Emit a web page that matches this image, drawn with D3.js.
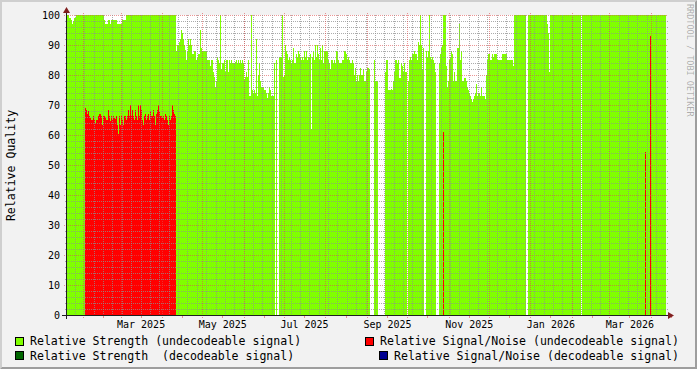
<!DOCTYPE html>
<html><head><meta charset="utf-8">
<script src="https://cdn.jsdelivr.net/npm/d3@7"></script>
<style>html,body{margin:0;padding:0;background:#F2F2F2;} svg{display:block;}</style>
</head><body>
<svg id="c" width="697" height="369"></svg>
<script>
// ---------------- data ----------------
const rangeStart = "2025-01-18T22:20:00Z";   // graph spans 64 weeks
const rangeDays = 448;
const sampleCount = 600;                      // one consolidated sample per column
const yTickValues = [0,10,20,30,40,50,60,70,80,90,100];
const xTickLabels = ["Mar 2025","May 2025","Jul 2025","Sep 2025","Nov 2025","Jan 2026","Mar 2026"];
const yTitle = "Relative Quality";
const seriesNames = ["Relative Strength (undecodeable signal)","Relative Signal/Noise (undecodeable signal)","Relative Strength  (decodeable signal)","Relative Signal/Noise (decodeable signal)"];
const seriesColors = ["#80FF00","#FF0000","#006600","#000090"];

// Relative Strength (undecodeable) – one value per sample, null = no data
const strengthUndecodeable = [
 100,100,100,99,99,98.5,97,98,99,99,
 100,100,100,100,100,100,100,100,100,100,100,100,100,100,100,100,100,100,100,100,100,100,100,100,100,100,100,100,
 98.5,97,97,97,98.5,98.5,97,98.5,98.5,98.5,98.5,98.5,98.5,97,97,97,97,97,98.5,98.5,98.5,98.5,
 100,100,100,100,100,100,100,100,100,100,100,100,100,100,100,100,100,100,100,100,100,100,100,100,100,
 100,100,100,100,100,100,100,100,100,100,100,100,100,100,100,100,100,100,100,100,100,100,100,100,100,
 // Apr 2025
 88,90,90,91,92,95,94,92,90,88.5,85,88,92,90,92,90,87,87,88,88,85,86,87,87,95,89,88,88,88,88,88,85,85,85,83,85,85,81,79.5,76,
 78,86,85,84,100,82,84,84,85,81,85,85,81,85,84,85,84,84,84,84.5,85,84,85,84,85,84,85,84,78.5,79.5,81,79.5,85,73,73,100,75,74,75,74,
 92,73,80,84,78,76,76,76,75,75,74,72.5,74,76,75,73,73,73,84,null,85,null,null,86,86,86,100,79.5,80,90,88,87,85,86,
 // Jul 2025
 85,84,85,89,84,84,87,86,88,87,86,85,86,85,88,86,88,85,86,86,87,62,86,88,85,90,86,90,87,85,89,85,90,84,88,88,88,88,85,84,
 82,85,85,84,85,84,88,88,85,84,84,84,85,85,88,88,87,85,86,85,84,84,85,84,80,82.5,78,80,78,80,82.5,80,80,82,78,78,81,82.5,82.5,82,
 // Sep 2025
 null,null,null,null,85,78,78,78,null,null,null,null,null,null,null,81,85,85,75,75,75,75.5,75,78,81,85,85,84,85,79,79,84,83,81,84,81,81,null,78,85,
 86,85,87,87,88,87,87,85,91,90,100,90,82,89,null,null,88,86,88,100,86,85,86,85,84,81,null,null,null,84,87,89,90,100,100,100,83,76,78,85,
 86,88,87,78,81,78,78,89,89,97,85,88,78,78,79,79,78,76,75,74,73,72,71,72,73,74,77,73,74,74,73,76,73,73,73,72,80,85,87,87,
 85,85,87,86,87,87,87,85,85,85,
 // Dec 2025
 85,85,87,87,87,87,87,85,85,85,85,85,85,83,100,100,100,100,100,100,100,100,100,100,100,100,null,null,
 100,100,100,100,100,100,100,100,100,100,100,100,100,100,100,100,100,100,100,97,94,81,
 100,100,100,100,100,100,100,100,100,100,100,100,100,100,100,100,100,100,100,100,100,100,100,100,100,100,100,100,100,100,100,null,
 100,100,100,100,100,100,100,100,100,100,100,100,100,100,100,100,100,100,100,100,100,100,100,100,100,100,100,100,100,100,100,100,100,100,100,100,100,100,100,100,100,100,
 100,100,100,100,100,100,100,100,100,100,100,100,100,100,100,100,100,100,100,100,100,100,100,100,100,100,100,100,100,100,100,100,100,100,100,100,100,100,100,100,100,100
];

// Relative Signal/Noise (undecodeable): continuous block starting at sample 19
const snrUndecodeableFirstSample = 19;
const snrUndecodeable = [
 69,68.4,67.1,67.9,66.4,65.7,65.1,65.1,66.2,65.1,64,65.1,65.1,66.4,67.1,67.1,66.2,63.5,66.2,66.2,
 66,65.1,65.1,68.4,66.2,64.6,66.2,65.1,66.2,65.7,65.3,66.2,63.5,60.5,66.2,63.5,66.2,65.1,63.5,66.2,
 66.2,65.1,66.2,68.4,66.2,70.1,66.2,68.4,66.2,65.1,68.4,66.2,65.1,70.1,66.2,70.1,68.4,65.1,63.5,66.2,
 67.1,65.1,66.2,67.1,65.1,67.9,66.2,66.2,68.4,66.2,63.5,67.1,68.4,70.1,67.9,66.2,66.2,65.7,66.2,65.1,
 67.1,66.2,65.1,63.5,66.2,65.1,66.2,70.1,68.4,67.1,66.2
];
// isolated samples [sample, value]
const snrUndecodeableSpikes = [[377,61],[579,54.5],[584,93]];
const strengthDecodeable = [];
const snrDecodeable = [];

// ---------------- drawing ----------------
const W = 697, H = 369;
const svg = d3.select("#c");
const t0 = new Date(rangeStart);
const t1 = new Date(t0.getTime() + rangeDays*864e5);
const x = d3.scaleUtc().domain([t0,t1]).range([66,666]);
const y = d3.scaleLinear().domain([0,100]).range([315,15]);
const stepMs = (t1 - t0)/sampleCount;
const tAt = i => new Date(t0.getTime() + i*stepMs);

// background & shading
svg.append("rect").attr("width",W).attr("height",H).attr("fill","#F2F2F2");
svg.append("path").attr("d",`M0,0H${W}L${W-2},2H2V${H-2}L0,${H}Z`).attr("fill","#CFCFCF");
svg.append("path").attr("d",`M${W},0V${H}H0L2,${H-2}H${W-2}V2Z`).attr("fill","#9E9E9E");
// canvas
svg.append("rect").attr("x",x.range()[0]).attr("y",y(100)).attr("width",x.range()[1]-x.range()[0]).attr("height",y(0)-y(100)).attr("fill","#FFFFFF");

function pts(samples){
  const out=[]; let prev=-2;
  samples.forEach(s=>{
    if(s.i!==prev+1) out.push({t:tAt(s.i),v:null});
    if(s.v==null){ out.push({t:tAt(s.i),v:null}); }
    else { out.push({t:tAt(s.i),v:s.v}); out.push({t:tAt(s.i+1),v:s.v}); }
    prev=s.i;
  });
  return out;
}
const area = d3.area().x(d=>Math.round(x(d.t))).y0(y(0)).y1(d=>y(d.v)).defined(d=>d.v!=null);
function drawSeries(samples,color){
  svg.append("path").attr("d",area(pts(samples))).attr("fill",color).attr("shape-rendering","crispEdges");
}
drawSeries(strengthUndecodeable.map((v,i)=>({i,v})), seriesColors[0]);
const snrSamples = snrUndecodeable.map((v,k)=>({i:snrUndecodeableFirstSample+k,v}))
  .concat(snrUndecodeableSpikes.map(d=>({i:d[0],v:d[1]}))).sort((a,b)=>a.i-b.i);
drawSeries(snrSamples, seriesColors[1]);
drawSeries(strengthDecodeable.map(d=>({i:d[0],v:d[1]})), seriesColors[2]);
drawSeries(snrDecodeable.map(d=>({i:d[0],v:d[1]})), seriesColors[3]);

// grid (1 on / 1 off dotted)
const gGrid = svg.append("g");
const minorCol = "rgba(143,143,143,0.75)", majorCol = "rgba(222,79,79,0.6)";
function hline(yy,xa,xb,col){
  gGrid.append("line").attr("x1",xa).attr("x2",xb).attr("y1",yy).attr("y2",yy)
    .attr("stroke",col).attr("stroke-width",1).attr("stroke-dasharray","1,1");
}
function vline(xx,ya,yb,col){
  gGrid.append("line").attr("x1",xx).attr("x2",xx).attr("y1",ya).attr("y2",yb)
    .attr("stroke",col).attr("stroke-width",1).attr("stroke-dasharray","1,1");
}
d3.range(0,101,2).filter(v=>v%10!==0).forEach(v=>hline(y(v)+0.5,65,668,minorCol));
yTickValues.forEach(v=>hline(y(v)+0.5,64,668,majorCol));
const months = d3.utcMonth.range(t0,t1);
d3.utcSunday.range(t0,t1).forEach(d=>vline(Math.floor(x(d))+0.5,15,316,minorCol));
months.forEach(d=>{
  vline(Math.floor(x(d))+0.5,13,318,majorCol);
  const pm = Math.floor(x(d3.utcDay.offset(d,15)))+0.5;
  svg.append("line").attr("x1",pm).attr("x2",pm).attr("y1",316).attr("y2",318).attr("stroke",majorCol);
});

// axes
const axisCol = "#1F1F1F", arrowCol = "#801F1F";
svg.append("line").attr("x1",62).attr("x2",670).attr("y1",315.5).attr("y2",315.5).attr("stroke",axisCol);
svg.append("line").attr("x1",66.5).attr("x2",66.5).attr("y1",319).attr("y2",11).attr("stroke",axisCol);
svg.append("path").attr("d","M668,312L674,315.5L668,319Z").attr("fill",arrowCol);
svg.append("path").attr("d","M63,13L66.5,7L70,13Z").attr("fill",arrowCol);

// tick labels
const font = "'DejaVu Sans Mono', monospace";
yTickValues.forEach(v=>{
  svg.append("text").attr("x",60).attr("y",y(v)+4).attr("text-anchor","end")
    .attr("font-family",font).attr("font-size",10).attr("fill","#000").text(v);
});
const parseM = d3.utcParse("%b %Y");
xTickLabels.forEach(s=>{
  const d = d3.utcDay.offset(parseM(s),15);
  svg.append("text").attr("x",x(d)).attr("y",328).attr("text-anchor","middle")
    .attr("font-family",font).attr("font-size",10).attr("fill","#000").text(s);
});
// y title
svg.append("text").attr("transform","translate(15,165.5) rotate(-90)").attr("text-anchor","middle")
  .attr("font-family",font).attr("font-size",11.55).attr("fill","#000").text(yTitle);
// watermark
svg.append("text").attr("transform","translate(686.5,4) rotate(90)")
  .attr("font-family",font).attr("font-size",8.5).attr("fill","#000").attr("fill-opacity",0.3).text("RRDTOOL / TOBI OETIKER");

// legend
const legendPos = [[15.5,337.5,30,345],[365.5,337.5,380,345],[15.5,351.5,30,359.5],[379.5,351.5,394,359.5]];
seriesNames.forEach((n,k)=>{
  const p = legendPos[k];
  svg.append("rect").attr("x",p[0]).attr("y",p[1]).attr("width",8).attr("height",8)
    .attr("fill",seriesColors[k]).attr("stroke","#000").attr("stroke-width",1);
  svg.append("text").attr("x",p[2]).attr("y",p[3]).attr("xml:space","preserve").style("white-space","pre")
    .attr("font-family",font).attr("font-size",11.55).attr("fill","#000").text(n);
});
</script>
</body></html>
